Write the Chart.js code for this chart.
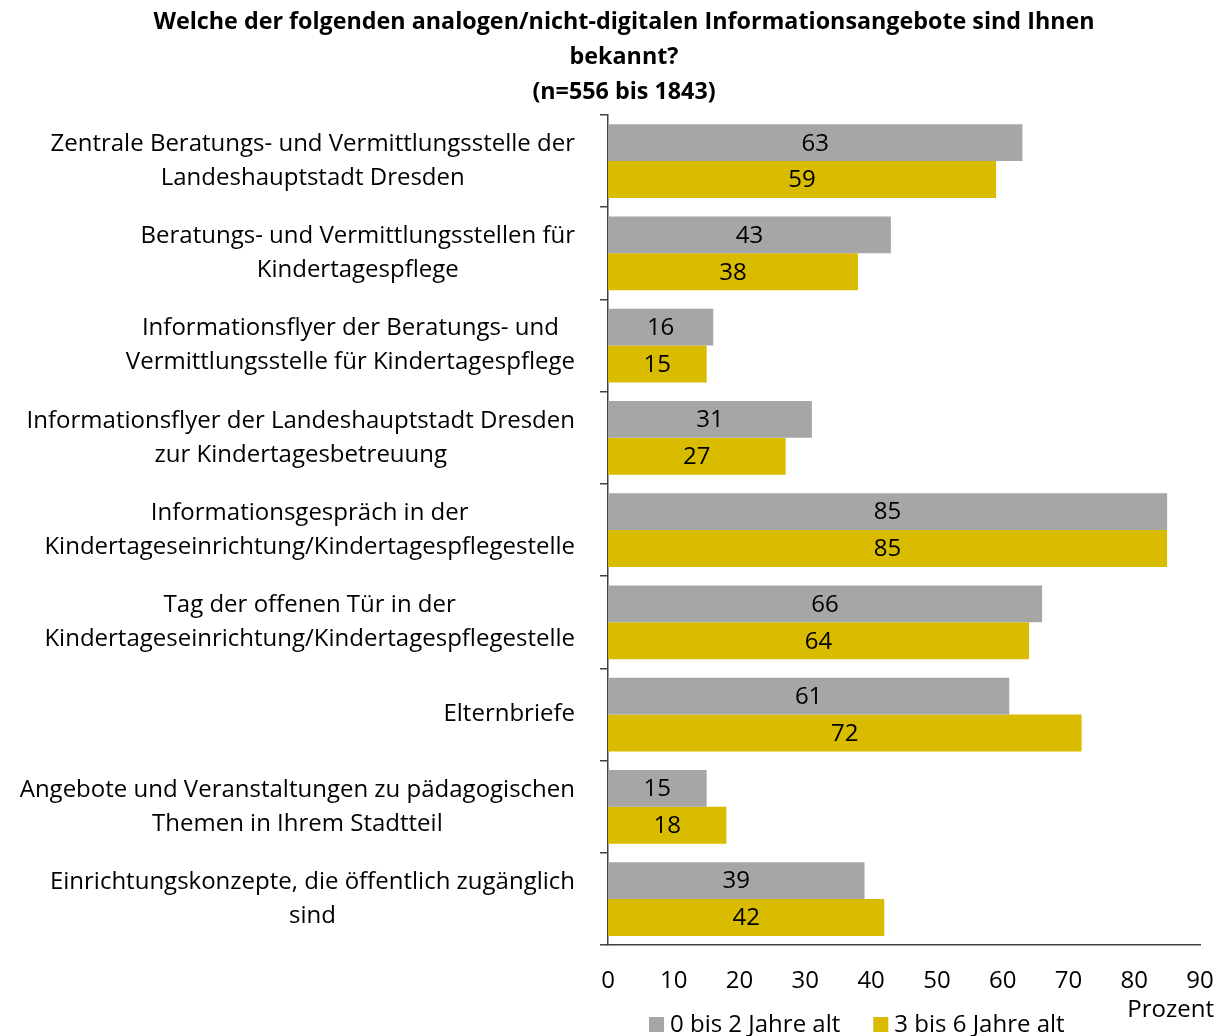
<!DOCTYPE html>
<html lang="de">
<head>
<meta charset="UTF-8">
<title>Analoge Informationsangebote</title>
<style>
  body { margin: 0; background: #fff; }
  #wrap { width: 1226px; height: 1036px; }
</style>
</head>
<body>
<div id="wrap"><canvas id="chart" width="1226" height="1036"></canvas></div>
<script src="https://cdn.jsdelivr.net/npm/chart.js"></script>
<script>
const categories = [
  ['Zentrale Beratungs- und Vermittlungsstelle der', 'Landeshauptstadt Dresden'],
  ['Beratungs- und Vermittlungsstellen für', 'Kindertagespflege'],
  ['Informationsflyer der Beratungs- und', 'Vermittlungsstelle für Kindertagespflege'],
  ['Informationsflyer der Landeshauptstadt Dresden', 'zur Kindertagesbetreuung'],
  ['Informationsgespräch in der', 'Kindertageseinrichtung/Kindertagespflegestelle'],
  ['Tag der offenen Tür in der', 'Kindertageseinrichtung/Kindertagespflegestelle'],
  ['Elternbriefe'],
  ['Angebote und Veranstaltungen zu pädagogischen', 'Themen in Ihrem Stadtteil'],
  ['Einrichtungskonzepte, die öffentlich zugänglich', 'sind']
];
const seriesNames = ['0 bis 2 Jahre alt', '3 bis 6 Jahre alt'];
const age0to2 = [63, 43, 16, 31, 85, 66, 61, 15, 39];
const age3to6 = [59, 38, 15, 27, 85, 64, 72, 18, 42];
const xTicks = [0, 10, 20, 30, 40, 50, 60, 70, 80, 90];

const FONT = "'Open Sans', 'Noto Sans', sans-serif";
const FS = 24;
const GRAY = '#a6a6a6';
const GOLD = '#d9bc00';
const AXIS = '#404040';

// value labels in the middle of each bar
const barLabels = {
  id: 'barLabels',
  afterDatasetsDraw(chart) {
    const ctx = chart.ctx;
    ctx.save();
    ctx.font = FS + 'px ' + FONT;
    ctx.fillStyle = '#000';
    ctx.textAlign = 'center';
    ctx.textBaseline = 'middle';
    chart.data.datasets.forEach((ds, i) => {
      chart.getDatasetMeta(i).data.forEach((bar, j) => {
        ctx.fillText(ds.data[j], (bar.x + bar.base) / 2, bar.y + 1);
      });
    });
    ctx.restore();
  }
};

// category labels: block right aligned, lines centred inside block
const catLabels = {
  id: 'catLabels',
  afterDraw(chart) {
    const ctx = chart.ctx;
    const y = chart.scales.y;
    ctx.save();
    ctx.font = FS + 'px ' + FONT;
    ctx.fillStyle = '#000';
    ctx.textAlign = 'center';
    ctx.textBaseline = 'middle';
    y.ticks.forEach((t, i) => {
      const lines = categories[i];
      const w = Math.max(...lines.map(l => ctx.measureText(l).width));
      const cx = 575 - w / 2;
      const py = y.getPixelForTick(i);
      lines.forEach((l, k) => {
        ctx.fillText(l, cx, py + (k - (lines.length - 1) / 2) * 34);
      });
    });
    ctx.restore();
  }
};

// axis unit + legend at the bottom
const footer = {
  id: 'footer',
  afterLayout(chart) {
    chart.titleBlock.left += 24;
    chart.titleBlock.right += 24;
  },
  afterDraw(chart) {
    const ctx = chart.ctx;
    const x = chart.scales.x;
    ctx.save();
    ctx.font = FS + 'px ' + FONT;
    ctx.fillStyle = '#000';
    ctx.textBaseline = 'middle';
    ctx.textAlign = 'right';
    ctx.fillText('Prozent', x.right + 14, 1010);
    ctx.textAlign = 'left';
    let px = 649;
    chart.data.datasets.forEach(ds => {
      ctx.fillStyle = ds.backgroundColor;
      ctx.fillRect(px, 1017, 15, 15);
      ctx.fillStyle = '#000';
      ctx.fillText(ds.label, px + 21, 1025);
      px += 21 + ctx.measureText(ds.label).width + 33;
    });
    ctx.restore();
  }
};

new Chart(document.getElementById('chart'), {
  type: 'bar',
  data: {
    labels: categories.map(c => c.join(' ')),
    datasets: [
      { label: seriesNames[0], data: age0to2, backgroundColor: GRAY },
      { label: seriesNames[1], data: age3to6, backgroundColor: GOLD }
    ]
  },
  options: {
    indexAxis: 'y',
    responsive: false,
    animation: false,
    events: [],
    categoryPercentage: 0.8,
    barPercentage: 1.0,
    layout: { padding: { left: 0, right: 26, top: 0, bottom: 18 } },
    plugins: {
      legend: { display: false },
      tooltip: { enabled: false },
      title: {
        display: true,
        text: [
          'Welche der folgenden analogen/nicht-digitalen Informationsangebote sind Ihnen',
          'bekannt?',
          '(n=556 bis 1843)'
        ],
        color: '#000',
        font: { family: FONT, size: 23.3, weight: 'bold', lineHeight: 35 / 23.3 },
        padding: { top: 5, bottom: 5 }
      }
    },
    scales: {
      x: {
        min: 0,
        max: 90,
        afterBuildTicks(scale) {
          scale.ticks = xTicks.map(v => ({ value: v }));
        },
        afterFit(scale) { scale.paddingRight = 0; },
        grid: { display: false, drawTicks: false, tickLength: 0 },
        border: { display: true, color: AXIS, width: 1.5 },
        ticks: {
          color: '#000',
          padding: 22,
          font: { family: FONT, size: FS }
        }
      },
      y: {
        afterFit(scale) { scale.width = 608; },
        grid: {
          display: true,
          drawOnChartArea: false,
          drawTicks: true,
          tickLength: 8,
          offset: true,
          color: AXIS,
          lineWidth: 1.5
        },
        border: { display: true, color: AXIS, width: 1.5 },
        ticks: { display: false }
      }
    }
  },
  plugins: [barLabels, catLabels, footer]
});
</script>
</body>
</html>
